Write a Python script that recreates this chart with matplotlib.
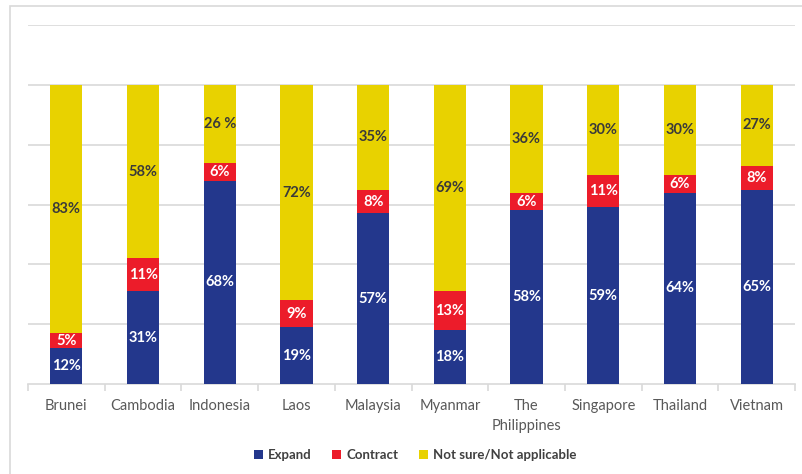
import matplotlib.pyplot as plt
import numpy as np
from matplotlib.patches import Rectangle

countries = ["Brunei", "Cambodia", "Indonesia", "Laos", "Malaysia",
             "Myanmar", "The\nPhilippines", "Singapore", "Thailand", "Vietnam"]
expand = [12, 31, 68, 19, 57, 18, 58, 59, 64, 65]
contract = [5, 11, 6, 9, 8, 13, 6, 11, 6, 8]
not_sure = [83, 58, 26, 72, 35, 69, 36, 30, 30, 27]
not_sure_text = ["83%", "58%", "26 %", "72%", "35%", "69%", "36%", "30%", "30%", "27%"]

BLUE = "#23378c"
RED = "#ec1c2a"
YELLOW = "#e8d200"
GRID = "#d9d9d9"

plt.rcParams['font.family'] = ['Lato', 'DejaVu Sans']

fig = plt.figure(figsize=(8.03, 4.74), dpi=100)
ax = fig.add_axes([28 / 803, 90 / 474, 767 / 803, 359 / 474])

x = np.arange(len(countries))
w = 0.42
e = np.array(expand)
c = np.array(contract)
n = np.array(not_sure)

ax.bar(x, e, w, color=BLUE, label="Expand", zorder=3)
ax.bar(x, c, w, bottom=e, color=RED, label="Contract", zorder=3)
ax.bar(x, n, w, bottom=e + c, color=YELLOW, label="Not sure/Not applicable", zorder=3)

for i in range(len(x)):
    ax.text(x[i], e[i] / 2, f"{expand[i]}%", ha="center", va="center",
            color="white", fontsize=10.5, fontweight="bold", zorder=4)
    ax.text(x[i], e[i] + c[i] / 2, f"{contract[i]}%", ha="center", va="center",
            color="white", fontsize=10.5, fontweight="bold", zorder=4)
    ax.text(x[i], e[i] + c[i] + n[i] / 2, not_sure_text[i], ha="center", va="center",
            color="#3a3a3a", fontsize=10.5, fontweight="bold", zorder=4)

ax.set_xlim(-0.5, len(x) - 0.5)
ax.set_ylim(0, 120)
ax.set_yticks([20, 40, 60, 80, 100, 120])
ax.yaxis.grid(True, color=GRID, linewidth=1.2, zorder=0)
ax.tick_params(axis="y", left=False, labelleft=False)

ax.set_xticks(x)
ax.set_xticklabels(countries, fontsize=10.5, color="#595959", linespacing=1.5)
ax.set_xticks(np.arange(-0.5, len(x)), minor=True)
ax.tick_params(axis="x", which="major", length=0, pad=11)
ax.tick_params(axis="x", which="minor", length=5, color=GRID, width=1.2)

for side in ["top", "right", "left"]:
    ax.spines[side].set_visible(False)
ax.spines["bottom"].set_color(GRID)
ax.spines["bottom"].set_linewidth(1.2)

# outer chart frame
fig.patches.append(Rectangle((10 / 803, -0.1), 1.1, (474 - 6) / 474 + 0.1,
                             transform=fig.transFigure, fill=False,
                             edgecolor="#d9d9d9", linewidth=1.2))

leg = fig.legend(loc="center", bbox_to_anchor=(415 / 803, 1 - 455 / 474), ncol=3,
                 frameon=False, handlelength=0.7, handleheight=0.7,
                 handletextpad=0.35, columnspacing=1.6,
                 prop={"size": 9.5, "weight": "bold"})
for t in leg.get_texts():
    t.set_color("#404040")

fig.savefig("out.png", dpi=100)
